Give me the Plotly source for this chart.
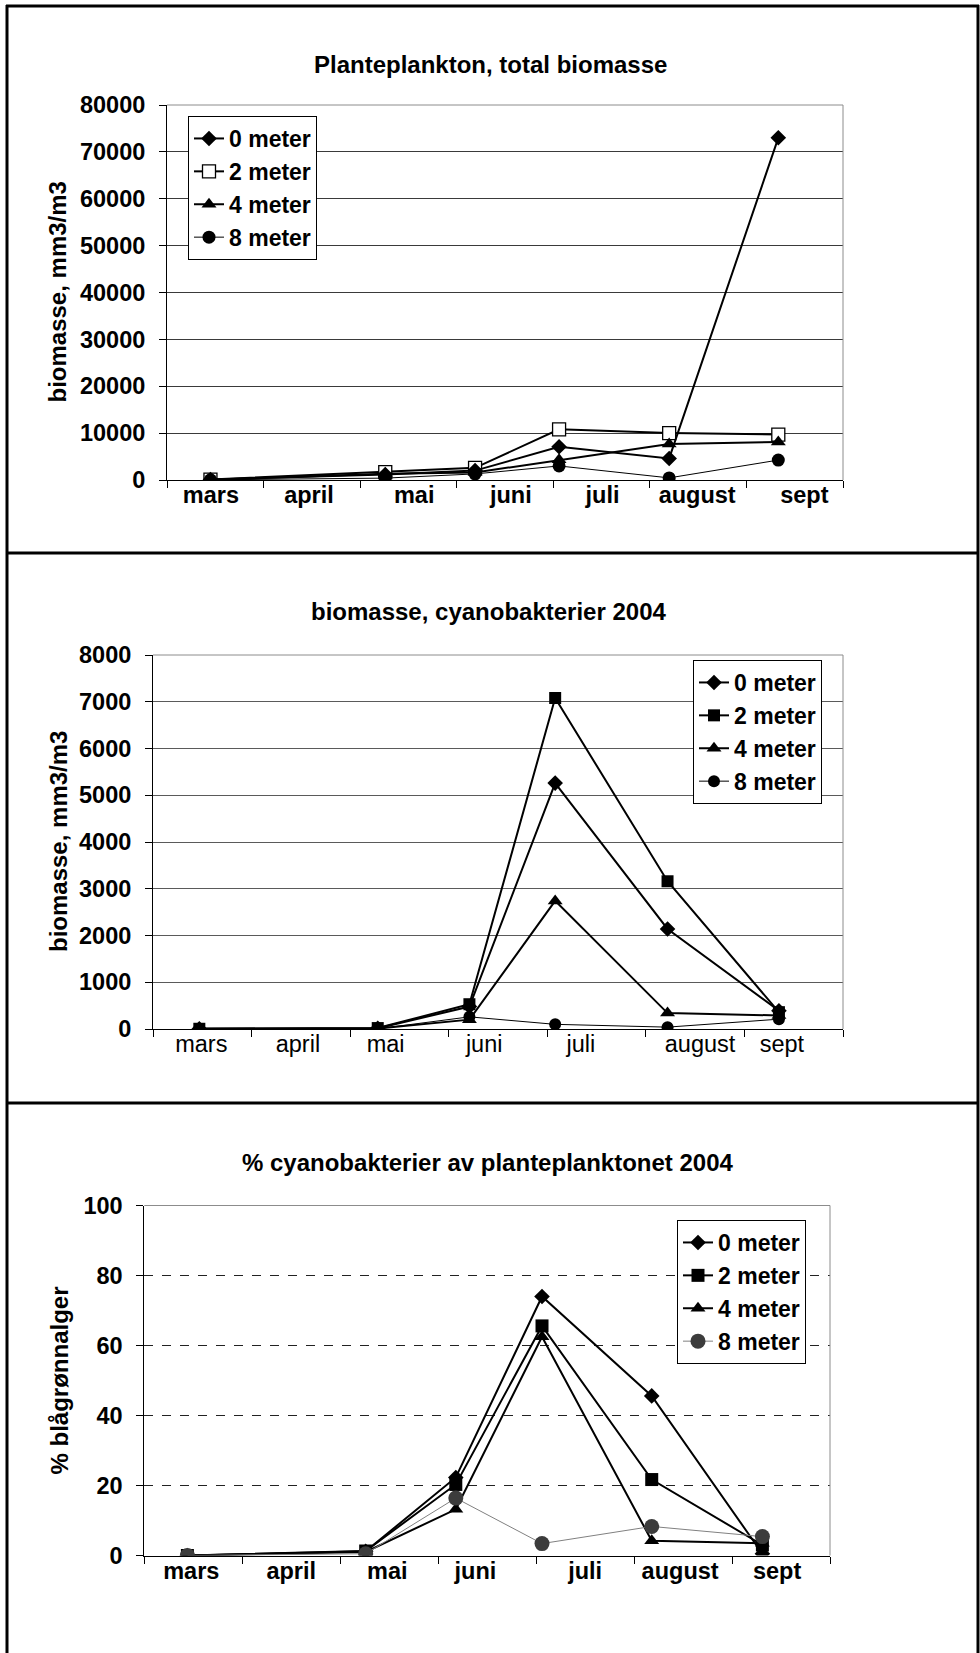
import plotly.graph_objects as go

W, H = 980, 1653

months = ["mars", "april", "mai", "juni", "juli", "august", "sept"]
series_names = ["0 meter", "2 meter", "4 meter", "8 meter"]

# Chart 1: Planteplankton, total biomasse (mm3/m3)
x1 = [0.45, 2.26, 3.19, 4.06, 5.20, 6.33]
total_0m = [80, 1150, 2000, 7100, 4600, 73000]
total_2m = [100, 1700, 2600, 10800, 10000, 9700]
total_4m = [60, 1350, 1600, 4300, 7700, 8100]
total_8m = [40, 400, 1300, 3000, 450, 4250]
label_pos1 = [0.455, 1.47, 2.56, 3.56, 4.51, 5.49, 6.6]

# Chart 2: biomasse, cyanobakterier 2004 (mm3/m3)
x2 = [0.47, 2.28, 3.21, 4.08, 5.22, 6.35]
cyano_0m = [5, 15, 480, 5260, 2140, 390]
cyano_2m = [5, 20, 530, 7080, 3160, 360]
cyano_4m = [3, 10, 200, 2740, 340, 290]
cyano_8m = [2, 5, 260, 100, 40, 210]
label_pos2 = [0.49, 1.47, 2.36, 3.36, 4.34, 5.55, 6.38]

# Chart 3: % cyanobakterier av planteplanktonet 2004
x3 = [0.44, 2.26, 3.18, 4.06, 5.18, 6.31]
pct_0m = [0, 1.2, 22.3, 74.0, 45.6, 0.5]
pct_2m = [0, 1.3, 20.3, 65.6, 21.7, 3.0]
pct_4m = [0, 1.0, 13.2, 62.5, 4.2, 3.5]
pct_8m = [0, 0.5, 16.4, 3.4, 8.3, 5.4]
label_pos3 = [0.48, 1.5, 2.48, 3.38, 4.5, 5.47, 6.46]

y1_ticks = list(range(0, 80001, 10000))
y2_ticks = list(range(0, 8001, 1000))
y3_ticks = list(range(0, 101, 20))

FONT = "Liberation Sans, Arial, sans-serif"
FS = 24
TFS = 23.5
LFS = 23


def px(x):
    return x / W


def py(y):
    return 1 - y / H


fig = go.Figure()

styles1 = [
    dict(symbol="diamond", size=12, color="black", lw=2, lc="black", mline=0, mlc="black"),
    dict(symbol="square", size=13, color="white", lw=2, lc="black", mline=1.3, mlc="black"),
    dict(symbol="triangle-up", size=13, color="black", lw=2, lc="black", mline=0, mlc="black"),
    dict(symbol="circle", size=13, color="black", lw=1, lc="black", mline=0, mlc="black"),
]
styles2 = [
    dict(symbol="diamond", size=12, color="black", lw=2, lc="black", mline=0, mlc="black"),
    dict(symbol="square", size=12, color="black", lw=2, lc="black", mline=0, mlc="black"),
    dict(symbol="triangle-up", size=13, color="black", lw=2, lc="black", mline=0, mlc="black"),
    dict(symbol="circle", size=12, color="black", lw=1, lc="black", mline=0, mlc="black"),
]
styles3 = [
    dict(symbol="diamond", size=12, color="black", lw=2, lc="black", mline=0, mlc="black"),
    dict(symbol="square", size=13, color="black", lw=2, lc="black", mline=0, mlc="black"),
    dict(symbol="triangle-up", size=13, color="black", lw=2, lc="black", mline=0, mlc="black"),
    dict(symbol="circle", size=15, color="#3c3c3c", lw=1, lc="#808080", mline=0, mlc="#3c3c3c"),
]

charts = [
    (x1, [total_0m, total_2m, total_4m, total_8m], styles1, "x", "y", "legend"),
    (x2, [cyano_0m, cyano_2m, cyano_4m, cyano_8m], styles2, "x2", "y2", "legend2"),
    (x3, [pct_0m, pct_2m, pct_4m, pct_8m], styles3, "x3", "y3", "legend3"),
]

# draw the 2 meter series first so the others sit on top, keep legend order
draw_order = [1, 0, 2, 3]
for xs, series, styles, xa, ya, lg in charts:
    for i in draw_order:
        name, ys, st = series_names[i], series[i], styles[i]
        fig.add_trace(go.Scatter(
            x=xs, y=ys, name=name, mode="lines+markers",
            xaxis=xa, yaxis=ya, legend=lg, legendrank=i + 1,
            line=dict(color=st["lc"], width=st["lw"]),
            marker=dict(symbol=st["symbol"], size=st["size"], color=st["color"],
                        line=dict(width=st["mline"], color=st["mlc"])),
            showlegend=True,
        ))

bold_font = dict(family=FONT, size=FS, color="black", weight="bold")
legend_font = dict(family=FONT, size=LFS, color="black", weight="bold")
tick_bold = dict(family=FONT, size=TFS, color="black", weight="bold")
tick_reg = dict(family=FONT, size=TFS, color="black")


def xaxis_cfg(left, right, anchor, labels_pos, tickfont):
    return dict(
        domain=[px(left), px(right)], anchor=anchor, range=[0, 7],
        tickmode="array", tickvals=labels_pos, ticktext=months, ticks="", ticklen=0,
        tickfont=tickfont, ticklabelstandoff=-6,
        minor=dict(tickmode="array", tickvals=list(range(8)), ticks="outside",
                   ticklen=7, tickcolor="black", tickwidth=1, showgrid=False),
        showline=True, linecolor="black", linewidth=1,
        showgrid=False, zeroline=False, fixedrange=True, automargin=False,
    )


def yaxis_cfg(top, bottom, anchor, ticks, rng, grid_color, griddash="solid"):
    return dict(
        domain=[py(bottom), py(top)], anchor=anchor, range=rng,
        tickmode="array", tickvals=ticks, ticktext=[str(t) for t in ticks],
        ticks="outside", ticklen=7, tickcolor="black", tickwidth=1,
        tickfont=tick_bold, ticklabelstandoff=9,
        showline=True, linecolor="black", linewidth=1,
        showgrid=True, gridcolor=grid_color, gridwidth=1, griddash=griddash,
        zeroline=False, fixedrange=True, automargin=False,
    )


P1 = (167, 843, 105, 480)
P2 = (153, 843, 655, 1029)
P3 = (144.3, 830, 1205.5, 1555.5)

legend_common = dict(xanchor="left", yanchor="top", bgcolor="white",
                     bordercolor="black", borderwidth=1, font=legend_font,
                     tracegroupgap=0, itemwidth=30, traceorder="normal")

fig.update_layout(
    margin=dict(l=0, r=0, t=0, b=0, autoexpand=False),
    paper_bgcolor="white", plot_bgcolor="white",
    font=dict(family=FONT, color="black"),
    xaxis=xaxis_cfg(P1[0], P1[1], "y", label_pos1, tick_bold),
    yaxis=yaxis_cfg(P1[2], P1[3], "x", y1_ticks, [0, 80000], "#3a3a3a"),
    xaxis2=xaxis_cfg(P2[0], P2[1], "y2", label_pos2, tick_reg),
    yaxis2=yaxis_cfg(P2[2], P2[3], "x2", y2_ticks, [0, 8000], "#5a5a5a"),
    xaxis3=xaxis_cfg(P3[0], P3[1], "y3", label_pos3, tick_bold),
    yaxis3=yaxis_cfg(P3[2], P3[3], "x3", y3_ticks, [0, 100], "#222222", "dash"),
    legend=dict(x=px(188), y=py(116), **legend_common),
    legend2=dict(x=px(693), y=py(660), **legend_common),
    legend3=dict(x=px(677), y=py(1220), **legend_common),
    showlegend=True,
)

titles = [
    ("Planteplankton, total biomasse", 490, 64),
    ("biomasse, cyanobakterier 2004", 489, 612),
    ("% cyanobakterier av planteplanktonet 2004", 488, 1162),
]
for txt, cx, cy in titles:
    fig.add_annotation(text=txt, x=px(cx), y=py(cy), xref="paper", yref="paper",
                       xanchor="center", yanchor="middle", showarrow=False,
                       font=bold_font)

ytitles = [
    ("biomasse, mm3/m3", 57, (P1[2] + P1[3]) / 2),
    ("biomasse, mm3/m3", 59, (P2[2] + P2[3]) / 2),
    ("% blågrønnalger", 59, (P3[2] + P3[3]) / 2),
]
for txt, cx, cy in ytitles:
    fig.add_annotation(text=txt, x=px(cx), y=py(cy), xref="paper", yref="paper",
                       xanchor="center", yanchor="middle", showarrow=False,
                       textangle=-90, font=bold_font)

for (l, r, t, b) in (P1, P2, P3):
    fig.add_shape(type="line", xref="paper", yref="paper",
                  x0=px(l), x1=px(r), y0=py(t), y1=py(t),
                  line=dict(color="#8c8c8c", width=1), layer="above")
    fig.add_shape(type="line", xref="paper", yref="paper",
                  x0=px(r), x1=px(r), y0=py(t), y1=py(b),
                  line=dict(color="#8c8c8c", width=1), layer="above")

frame = dict(color="black", width=3)
fig.add_shape(type="line", xref="paper", yref="paper", x0=px(7), x1=px(7), y0=py(5), y1=py(1653), line=frame)
fig.add_shape(type="line", xref="paper", yref="paper", x0=px(978), x1=px(978), y0=py(5), y1=py(1653), line=frame)
fig.add_shape(type="line", xref="paper", yref="paper", x0=px(6), x1=px(979), y0=py(6), y1=py(6), line=frame)
for yd in (553, 1103):
    fig.add_shape(type="line", xref="paper", yref="paper", x0=px(6), x1=px(979), y0=py(yd), y1=py(yd), line=frame)

# The figure fills a 980x1653 div pinned to the top-left corner of the page.
fig.write_html(
    "out.html",
    config={"displayModeBar": False},
    default_width=f"{W}px;position:absolute;left:0px;top:0px",
    default_height=f"{H}px",
)
